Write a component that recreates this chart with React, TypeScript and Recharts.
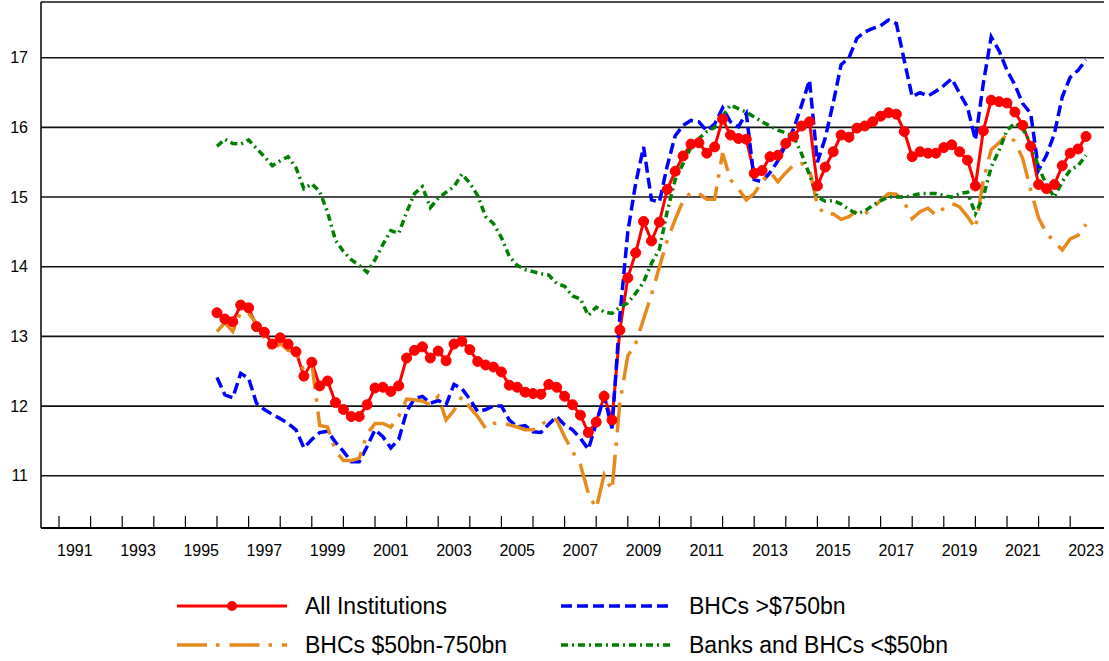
import { CartesianGrid, Legend, Line, LineChart, XAxis, YAxis } from "recharts";

// quarterly observations, 1995 Q4 .. 2023 Q2, placed at the end of each quarter
const firstQuarterEnd = 1996;
const quarters = Array.from({ length: 111 }, (_, i) => firstQuarterEnd + i / 4);

const allInstitutions = [
  13.34, 13.25, 13.21, 13.45, 13.41, 13.14, 13.06, 12.89, 12.98, 12.89,
  12.78, 12.43, 12.63, 12.29, 12.36, 12.05, 11.95, 11.85, 11.85, 12.02,
  12.26, 12.27, 12.21, 12.29, 12.69, 12.80, 12.85, 12.69, 12.79, 12.65,
  12.89, 12.93, 12.81, 12.64, 12.59, 12.56, 12.49, 12.30, 12.27, 12.20,
  12.18, 12.17, 12.31, 12.27, 12.14, 12.02, 11.87, 11.62, 11.77, 12.14,
  11.80, 13.09, 13.84, 14.20, 14.65, 14.37, 14.64, 15.11, 15.37, 15.59,
  15.76, 15.78, 15.63, 15.72, 16.12, 15.89, 15.84, 15.83, 15.34, 15.38,
  15.58, 15.60, 15.77, 15.87, 16.02, 16.08, 15.16, 15.43, 15.65, 15.89,
  15.86, 15.99, 16.02, 16.08, 16.16, 16.21, 16.19, 15.94, 15.58, 15.65,
  15.63, 15.63, 15.71, 15.75, 15.65, 15.53, 15.16, 15.95, 16.39, 16.37,
  16.35, 16.22, 16.03, 15.73, 15.18, 15.12, 15.18, 15.45, 15.63, 15.69,
  15.87,
];

const bhcsOver750 = [
  12.41, 12.16, 12.12, 12.47, 12.40, 12.04, 11.95, 11.88, 11.82, 11.75,
  11.66, 11.40, 11.52, 11.62, 11.64, 11.48, 11.35, 11.20, 11.20, 11.42,
  11.66, 11.56, 11.40, 11.52, 11.92, 12.11, 12.14, 12.04, 12.08, 12.02,
  12.31, 12.25, 12.10, 11.92, 11.95, 12.00, 12.00, 11.80, 11.70, 11.72,
  11.63, 11.62, 11.74, 11.85, 11.73, 11.66, 11.54, 11.38, 11.75, 12.14,
  11.68, 13.30, 14.50, 15.20, 15.72, 14.96, 14.93, 15.45, 15.88, 16.03,
  16.10, 16.08, 15.95, 16.05, 16.28, 16.08, 16.01, 16.20, 15.25, 15.22,
  15.35, 15.52, 15.75, 15.98, 16.32, 16.68, 15.50, 15.85, 16.35, 16.90,
  17.00, 17.28, 17.37, 17.42, 17.46, 17.54, 17.49, 16.96, 16.44, 16.50,
  16.45, 16.52, 16.60, 16.70, 16.49, 16.29, 15.82, 16.63, 17.30, 17.10,
  16.82, 16.61, 16.34, 16.20, 15.39, 15.60, 15.91, 16.44, 16.72, 16.82,
  16.97,
];

const bhcs50to750 = [
  13.07, 13.20, 13.07, 13.35, 13.33, 13.19, 12.98, 12.78, 12.90, 12.80,
  12.78, 12.50, 12.62, 11.72, 11.70, 11.35, 11.22, 11.22, 11.25, 11.60,
  11.75, 11.75, 11.70, 11.85, 12.10, 12.09, 12.07, 12.02, 12.14, 11.80,
  11.94, 12.14, 11.98, 11.85, 11.68, 11.75, 11.76, 11.73, 11.70, 11.66,
  11.66, 11.72, 11.82, 11.80, 11.56, 11.35, 11.16, 10.75, 10.53, 11.01,
  10.79, 12.05, 12.72, 12.90, 13.25, 13.60, 14.00, 14.38, 14.68, 14.95,
  15.07, 15.05, 14.97, 14.97, 15.63, 15.25, 15.12, 14.96, 15.05, 15.22,
  15.36, 15.22, 15.35, 15.46, 15.48, 15.40, 14.88, 14.74, 14.76, 14.68,
  14.72, 14.80, 14.76, 14.84, 14.95, 15.05, 15.04, 14.93, 14.69, 14.79,
  14.84, 14.74, 14.84, 14.91, 14.86, 14.72, 14.55, 15.24, 15.68, 15.78,
  15.90, 15.80, 15.55, 15.10, 14.70, 14.48, 14.36, 14.24, 14.40, 14.45,
  14.61,
];

const banksUnder50 = [
  15.73, 15.83, 15.77, 15.76, 15.82, 15.70, 15.58, 15.45, 15.52, 15.58,
  15.42, 15.12, 15.19, 15.08, 14.78, 14.38, 14.22, 14.10, 14.02, 13.92,
  14.10, 14.32, 14.52, 14.48, 14.78, 15.05, 15.15, 14.85, 14.98, 15.07,
  15.15, 15.33, 15.20, 15.02, 14.72, 14.62, 14.42, 14.15, 14.02, 13.96,
  13.93, 13.90, 13.88, 13.76, 13.72, 13.58, 13.54, 13.30, 13.42, 13.35,
  13.33, 13.42, 13.48, 13.62, 13.78, 14.05, 14.25, 14.80, 15.25, 15.48,
  15.72, 15.84, 15.94, 16.00, 16.16, 16.32, 16.27, 16.22, 16.15, 16.08,
  16.02, 15.96, 15.92, 15.87, 15.62, 15.32, 15.00, 14.94, 14.95, 14.90,
  14.82, 14.76, 14.80, 14.88, 14.95, 15.00, 15.00, 15.00, 15.02, 15.05,
  15.05, 15.05, 15.02, 15.00, 15.05, 15.07, 14.76, 15.00, 15.43, 15.67,
  15.96, 16.06, 15.98, 15.77, 15.43, 15.17, 15.00, 15.22, 15.39, 15.45,
  15.60,
];

const yTicks = [11, 12, 13, 14, 15, 16, 17];
const tickYears = Array.from({ length: 33 }, (_, i) => 1991 + i);
// labels sit in the middle of every second year
const labelYears = tickYears.filter((y) => y % 2 === 1).map((y) => y + 0.5);

const FONT = "'Liberation Sans', Arial, sans-serif";

const series = [
  { key: "all", name: "All Institutions", color: "#FF0000", dash: undefined as string | undefined, width: 3 },
  { key: "large", name: "BHCs >$750bn", color: "#0000FF", dash: "11 5", width: 3.5 },
  { key: "mid", name: "BHCs $50bn-750bn", color: "#E68A1E", dash: "30 9 3.5 10", width: 3.5 },
  { key: "small", name: "Banks and BHCs <$50bn", color: "#008000", dash: "7 4 2 4", width: 3.5 },
];

const data = quarters.map((t, i) => ({
  t,
  all: allInstitutions[i],
  large: bhcsOver750[i],
  mid: bhcs50to750[i],
  small: banksUnder50[i],
}));

const YearTick = ({ x, y, payload }: any) => {
  const v = payload.value;
  if (Number.isInteger(v)) {
    return <line x1={x} x2={x} y1={y - 12} y2={y} stroke="#000" strokeWidth={1.2} />;
  }
  return (
    <text x={x} y={y + 28} textAnchor="middle" fontSize={16} fontFamily={FONT} fill="#000">
      {Math.floor(v)}
    </text>
  );
};

const ChartLegend = () => {
  const cols = [177, 561];
  const rows = [21, 60];
  return (
    <div style={{ position: "relative", width: 1109, height: 76, fontFamily: FONT }}>
      {series.map((s, i) => {
        const left = cols[i % 2];
        const top = rows[Math.floor(i / 2)];
        return (
          <div key={s.key} style={{ position: "absolute", left, top: top - 13, height: 26, display: "flex", alignItems: "center" }}>
            <svg width={110} height={24} style={{ display: "block" }}>
              <line x1={0} x2={110} y1={12} y2={12} stroke={s.color} strokeWidth={s.width} strokeDasharray={s.dash} />
              {s.key === "all" && <circle cx={55} cy={12} r={5} fill={s.color} />}
            </svg>
            <span style={{ marginLeft: 18, fontSize: 23, color: "#000", whiteSpace: "nowrap" }}>{s.name}</span>
          </div>
        );
      })}
    </div>
  );
};

export default function App() {
  return (
    <div style={{ position: "absolute", left: 0, top: 0, width: 1109, height: 661, background: "#fff" }}>
      <LineChart width={1109} height={661} data={data} margin={{ top: 2, right: 5, bottom: 0, left: 0 }}>
        <CartesianGrid vertical={false} stroke="#111" strokeWidth={1.6} />
        <XAxis
          dataKey="t"
          type="number"
          domain={[1990.43, 2024.07]}
          ticks={[...tickYears, ...labelYears].sort((a, b) => a - b)}
          interval={0}
          tick={<YearTick />}
          tickLine={false}
          tickSize={0}
          tickMargin={0}
          height={57}
          axisLine={{ stroke: "#000", strokeWidth: 2 }}
        />
        <YAxis
          domain={[10.25, 17.8]}
          ticks={yTicks}
          width={41}
          tickLine={false}
          tickSize={0}
          tickMargin={13}
          axisLine={{ stroke: "#000", strokeWidth: 1.5 }}
          tick={{ fill: "#000", fontSize: 16, fontFamily: FONT }}
        />
        <Legend
          verticalAlign="bottom"
          content={<ChartLegend />}
          wrapperStyle={{ left: 0, bottom: 0, width: 1109, height: 76 }}
        />
        {series.map((s) => (
          <Line
            key={s.key}
            type="linear"
            dataKey={s.key}
            name={s.name}
            stroke={s.color}
            strokeWidth={s.width}
            strokeDasharray={s.dash}
            dot={s.key === "all" ? { r: 5, fill: s.color, stroke: s.color, strokeWidth: 1 } : false}
            isAnimationActive={false}
          />
        ))}
      </LineChart>
    </div>
  );
}
